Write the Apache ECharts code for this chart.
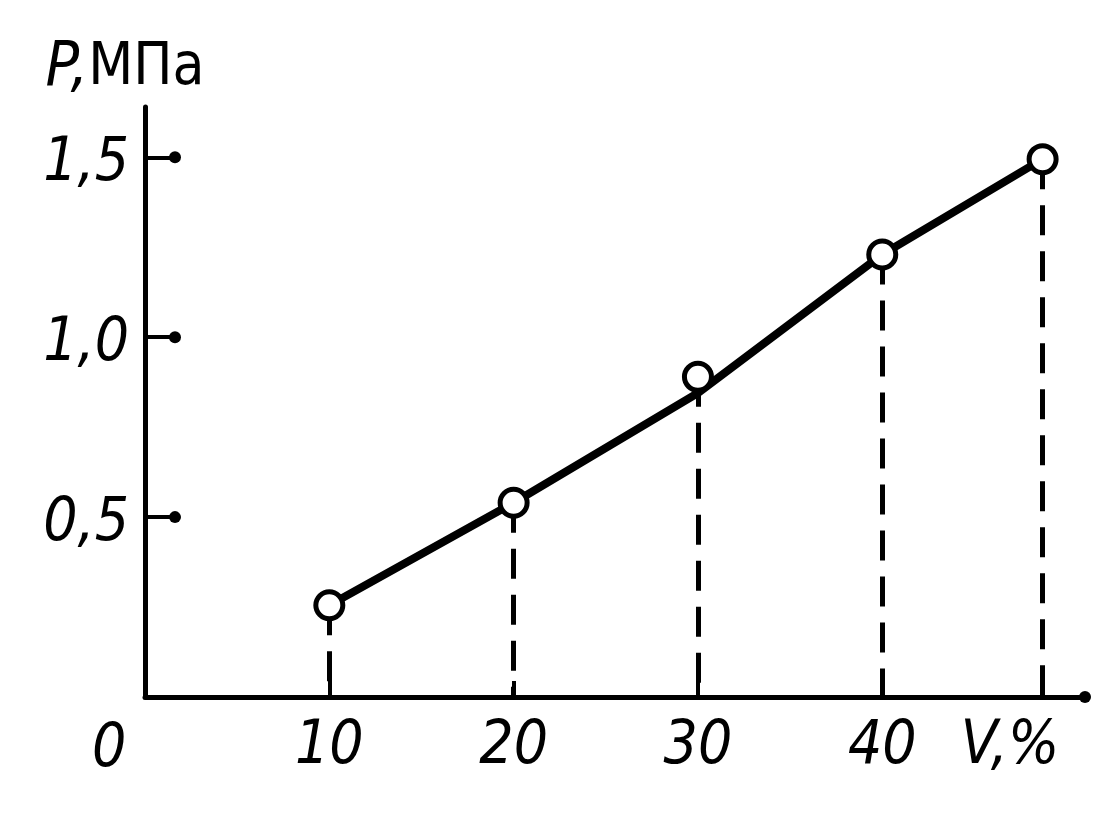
<!DOCTYPE html>
<html>
<head>
<meta charset="utf-8">
<script src="https://cdn.jsdelivr.net/npm/echarts@6/dist/echarts.min.js"></script>
<style>html,body{margin:0;padding:0;background:#fff}#c{width:1120px;height:818px}</style>
</head>
<body>
<div id="c"></div>
<script>
// Measured points (V, %  ->  P, MPa)
const vValues = [10, 20, 30, 40, 48.7];
const pMeasured = [0.255, 0.54, 0.89, 1.23, 1.495];
// Fitted curve drawn through the points
const pCurve = [0.255, 0.54, 0.845, 1.23, 1.495];
// Axis ticks
const xTicks = [10, 20, 30, 40];
const yTicks = [0.5, 1.0, 1.5];
const yTickLabels = ['0,5', '1,0', '1,5'];

const FONT = "'Liberation Sans Narrow', 'DejaVu Sans Condensed', 'Liberation Sans', sans-serif";

const chart = echarts.init(document.getElementById('c'));
chart.setOption({
  animation: false,
  backgroundColor: '#fff',
  grid: { left: 145, right: 35, top: 107, bottom: 121 },
  xAxis: {
    type: 'value', min: 0, max: 51, interval: 10,
    splitLine: { show: false },
    axisLine: { lineStyle: { color: '#000', width: 5 }, symbol: ['none', 'circle'], symbolSize: [12, 12] },
    axisTick: { show: true, inside: true, length: 16, lineStyle: { color: '#000', width: 4 }, customValues: xTicks },
    axisLabel: { customValues: xTicks, margin: 20, color: '#000', fontFamily: FONT, fontStyle: 'italic', fontSize: 60 },
    name: 'V,%', nameLocation: 'end', nameGap: -75,
    nameTextStyle: { color: '#000', fontFamily: FONT, fontStyle: 'italic', fontSize: 60, align: 'center', verticalAlign: 'top', padding: [20, 0, 0, 0] }
  },
  yAxis: {
    type: 'value', min: 0, max: 1.64, interval: 0.5,
    splitLine: { show: false },
    axisLine: { lineStyle: { color: '#000', width: 5 } },
    axisTick: { show: true, inside: true, length: 30, lineStyle: { color: '#000', width: 4 }, customValues: yTicks },
    axisLabel: {
      customValues: yTicks, margin: 16, color: '#000',
      formatter: v => '{a|' + (yTickLabels[yTicks.findIndex(t => Math.abs(t - v) < 1e-6)] || '') + '}',
      rich: { a: { fontFamily: FONT, fontStyle: 'italic', fontSize: 60, color: '#000', padding: [14, 0, 0, 0] } }
    },
    name: '{i|P,}{n|МПа}', nameLocation: 'end', nameGap: 38,
    nameTextStyle: {
      color: '#000', align: 'center', verticalAlign: 'middle', padding: [0, 40, 0, 0],
      rich: {
        i: { fontFamily: FONT, fontStyle: 'italic', fontSize: 62, color: '#000' },
        n: { fontFamily: FONT, fontSize: 58, color: '#000' }
      }
    }
  },
  graphic: [{
    type: 'text', left: 92, top: 720,
    style: { text: '0', fontFamily: FONT, fontStyle: 'italic', fontSize: 60, fill: '#000' }
  }],
  series: [
    {
      type: 'line', z: 2,
      data: vValues.map((v, i) => [v, pCurve[i]]),
      showSymbol: false, symbol: 'none',
      lineStyle: { color: '#000', width: 8 },
      markLine: {
        silent: true, symbol: ['none', 'none'], label: { show: false },
        lineStyle: { color: '#000', width: 5, type: [30, 16] },
        data: vValues.map((v, i) => [{ coord: [v, pMeasured[i]] }, { coord: [v, 0] }])
      }
    },
    {
      type: 'scatter', z: 5,
      data: vValues.map((v, i) => [v, pMeasured[i]]),
      symbol: 'circle', symbolSize: 27,
      itemStyle: { color: '#fff', borderColor: '#000', borderWidth: 5, opacity: 1 }
    },
    {
      // rounded ends of the y-axis tick marks
      type: 'scatter', z: 4, silent: true,
      data: yTicks.map(t => [0, t]),
      symbol: 'circle', symbolSize: 12, symbolOffset: [30, 0],
      itemStyle: { color: '#000', opacity: 1 }
    }
  ]
});
</script>
</body>
</html>
